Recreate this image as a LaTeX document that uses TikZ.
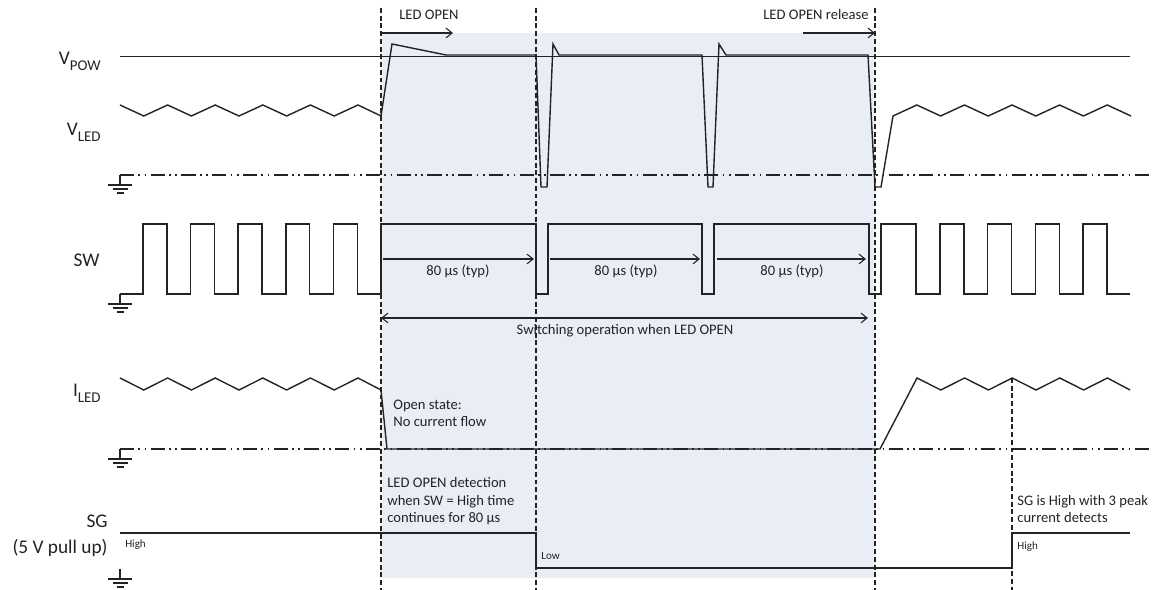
\documentclass[tikz,border=0pt]{standalone}
\usepackage{fontspec}
\setmainfont{Carlito}
\usetikzlibrary{arrows.meta}
\definecolor{openbg}{RGB}{233,238,246}
\definecolor{ink}{RGB}{35,35,35}
\newcommand\sigsub[1]{\raisebox{-3.4pt}{\fontsize{8.5}{9}\selectfont #1}}

\begin{document}
\begin{tikzpicture}[x=0.02cm,y=-0.02cm,>={Straight Barb[length=3.5pt,width=5.5pt]},
  wave/.style={ink,line width=0.8pt,line join=miter},
  gndline/.style={ink,line width=0.6pt,dash pattern=on 8pt off 2.5pt on 1pt off 2.5pt on 1pt off 2.5pt},
  cut/.style={ink,line width=0.8pt,dash pattern=on 2.8pt off 1.6pt},
  sig/.style={ink,font=\fontsize{11}{13}\selectfont,inner sep=0pt,anchor=base east},
  note/.style={ink,font=\fontsize{8.3}{10.2}\selectfont,inner sep=0pt,align=left,anchor=base west},
  lvl/.style={ink,font=\fontsize{6.3}{7}\selectfont,inner sep=0pt,anchor=base west}]
  \def\gnd#1#2{%
    \draw[ink,line width=0.6pt] (#1,#2) -- (#1,#2+10);
    \draw[ink,line width=0.6pt] (#1-12,#2+10) -- (#1+12,#2+10);
    \draw[ink,line width=0.6pt] (#1-7.5,#2+14) -- (#1+7.5,#2+14);
    \draw[ink,line width=0.6pt] (#1-3.5,#2+18) -- (#1+3.5,#2+18);}
  \useasboundingbox (0,0) rectangle (1153,590);
  % open window
  \fill[openbg] (381,33) rectangle (875,578);
  \coordinate (open) at (381,8);
  \coordinate (sw1) at (536,8);
  \coordinate (release) at (875,8);
  \coordinate (peak3) at (1012,378);
  \draw[cut] (open) -- (381,590);
  \draw[cut] (sw1) -- (536,590);
  \draw[cut] (release) -- (875,590);
  \draw[cut] (peak3) -- (1012,590);
  \node[note] (ledopen) at (399,20) {LED OPEN};
  \node[note] (ledrel) at (763,20) {LED OPEN release};
  \draw[->,ink,line width=0.6pt] (open |- 0,33) -- (453,33);
  \draw[->,ink,line width=0.6pt] (803,33) -- (release |- 0,33);
  % labels
  \node[sig] (vpow) at (101,65) {V\sigsub{POW}};
  \node[sig] (vled) at (101,136) {V\sigsub{LED}};
  \node[sig] (sw) at (100,267) {SW};
  \node[sig] (iled) at (101,397) {I\sigsub{LED}};
  \node[sig] (sg) at (108,528) {SG};
  \node[sig] (pullup) at (108,554) {(5 V pull up)};
  % VPOW and VLED
  \draw[ink,line width=0.6pt] (120,56.5) -- (1130,56.5);
  \draw[gndline] (120,175) -- (1153,175);
  \gnd{120}{175}
  \draw[wave] (120,105) foreach \x in {120,167.6,215.2,262.8,310.4} {-- (\x+23.8,116) -- (\x+47.6,105)}
    -- (381,116) -- (392,44) -- (446,55) -- (536,55) -- (541,187) -- (547,187) -- (553,44) -- (559,55)
    -- (702,55) -- (708,187) -- (713,187) -- (719,44) -- (726,55) -- (868,55) -- (875,187) -- (881,187)
    -- (893,116) foreach \x in {893,940.6,988.2,1035.8,1083.4} {-- (\x+23.8,105) -- (\x+47.6,116)};
  % SW
  \gnd{120}{294}
  \draw[wave] (120,294) foreach \x in {143,190.6,238.2,285.8,333.4} {-- (\x,294) -- ++(0,-70) -- ++(23.8,0) -- ++(0,70)}
    -- (381,294) -- (381,224) -- (536,224) -- (536,294) -- (548,294) -- (548,224) -- (702,224) -- (702,294)
    -- (714,294) -- (714,224) -- (869,224) -- (869,294) -- (881,294) -- (881,224) -- (916,224) -- (916,294)
    foreach \x in {940,987.6,1035.2,1082.8} {-- (\x,294) -- ++(0,-70) -- ++(24,0) -- ++(0,70)} -- (1130,294);
  \draw[->,ink,line width=0.6pt] (383,259) -- (534,259);
  \draw[->,ink,line width=0.6pt] (550,259) -- (700,259);
  \draw[->,ink,line width=0.6pt] (717,259) -- (866,259);
  \node[note,anchor=base] (typ1) at (458,276) {80 µs (typ)};
  \node[note,anchor=base] (typ2) at (626,276) {80 µs (typ)};
  \node[note,anchor=base] (typ3) at (792,276) {80 µs (typ)};
  \draw[<->,ink,line width=0.6pt] (381,318) -- (868,318);
  \node[note,anchor=base] (swop) at (625,335) {Switching operation when LED OPEN};
  % ILED
  \draw[gndline] (120,449) -- (1153,449);
  \gnd{120}{449}
  \draw[wave] (120,378) foreach \x in {120,167.6,215.2,262.8,310.4} {-- (\x+23.8,390) -- (\x+47.6,378)}
    -- (381,390) -- (387,449) -- (880,449) -- (917,378)
    foreach \x in {917,964.6,1012.2,1059.8} {-- (\x+23.8,390) -- (\x+47.6,378)} -- (1130,390);
  \node[note] (openst) at (393,427) {Open state:\\No current flow};
  % SG
  \gnd{120}{569}
  \draw[wave] (120,533) -- (536,533) -- (536,568) -- (1012,568) -- (1012,533) -- (1130,533);
  \node[note] (detect) at (387,523) {LED OPEN detection\\when SW = High time\\continues for 80 µs};
  \node[note] (sghigh) at (1017,523) {SG is High with 3 peak\\current detects};
  \node[lvl] (hi1) at (125,548) {High};
  \node[lvl] (lo) at (541,560) {Low};
  \node[lvl] (hi2) at (1017,550) {High};
\end{tikzpicture}
\end{document}
